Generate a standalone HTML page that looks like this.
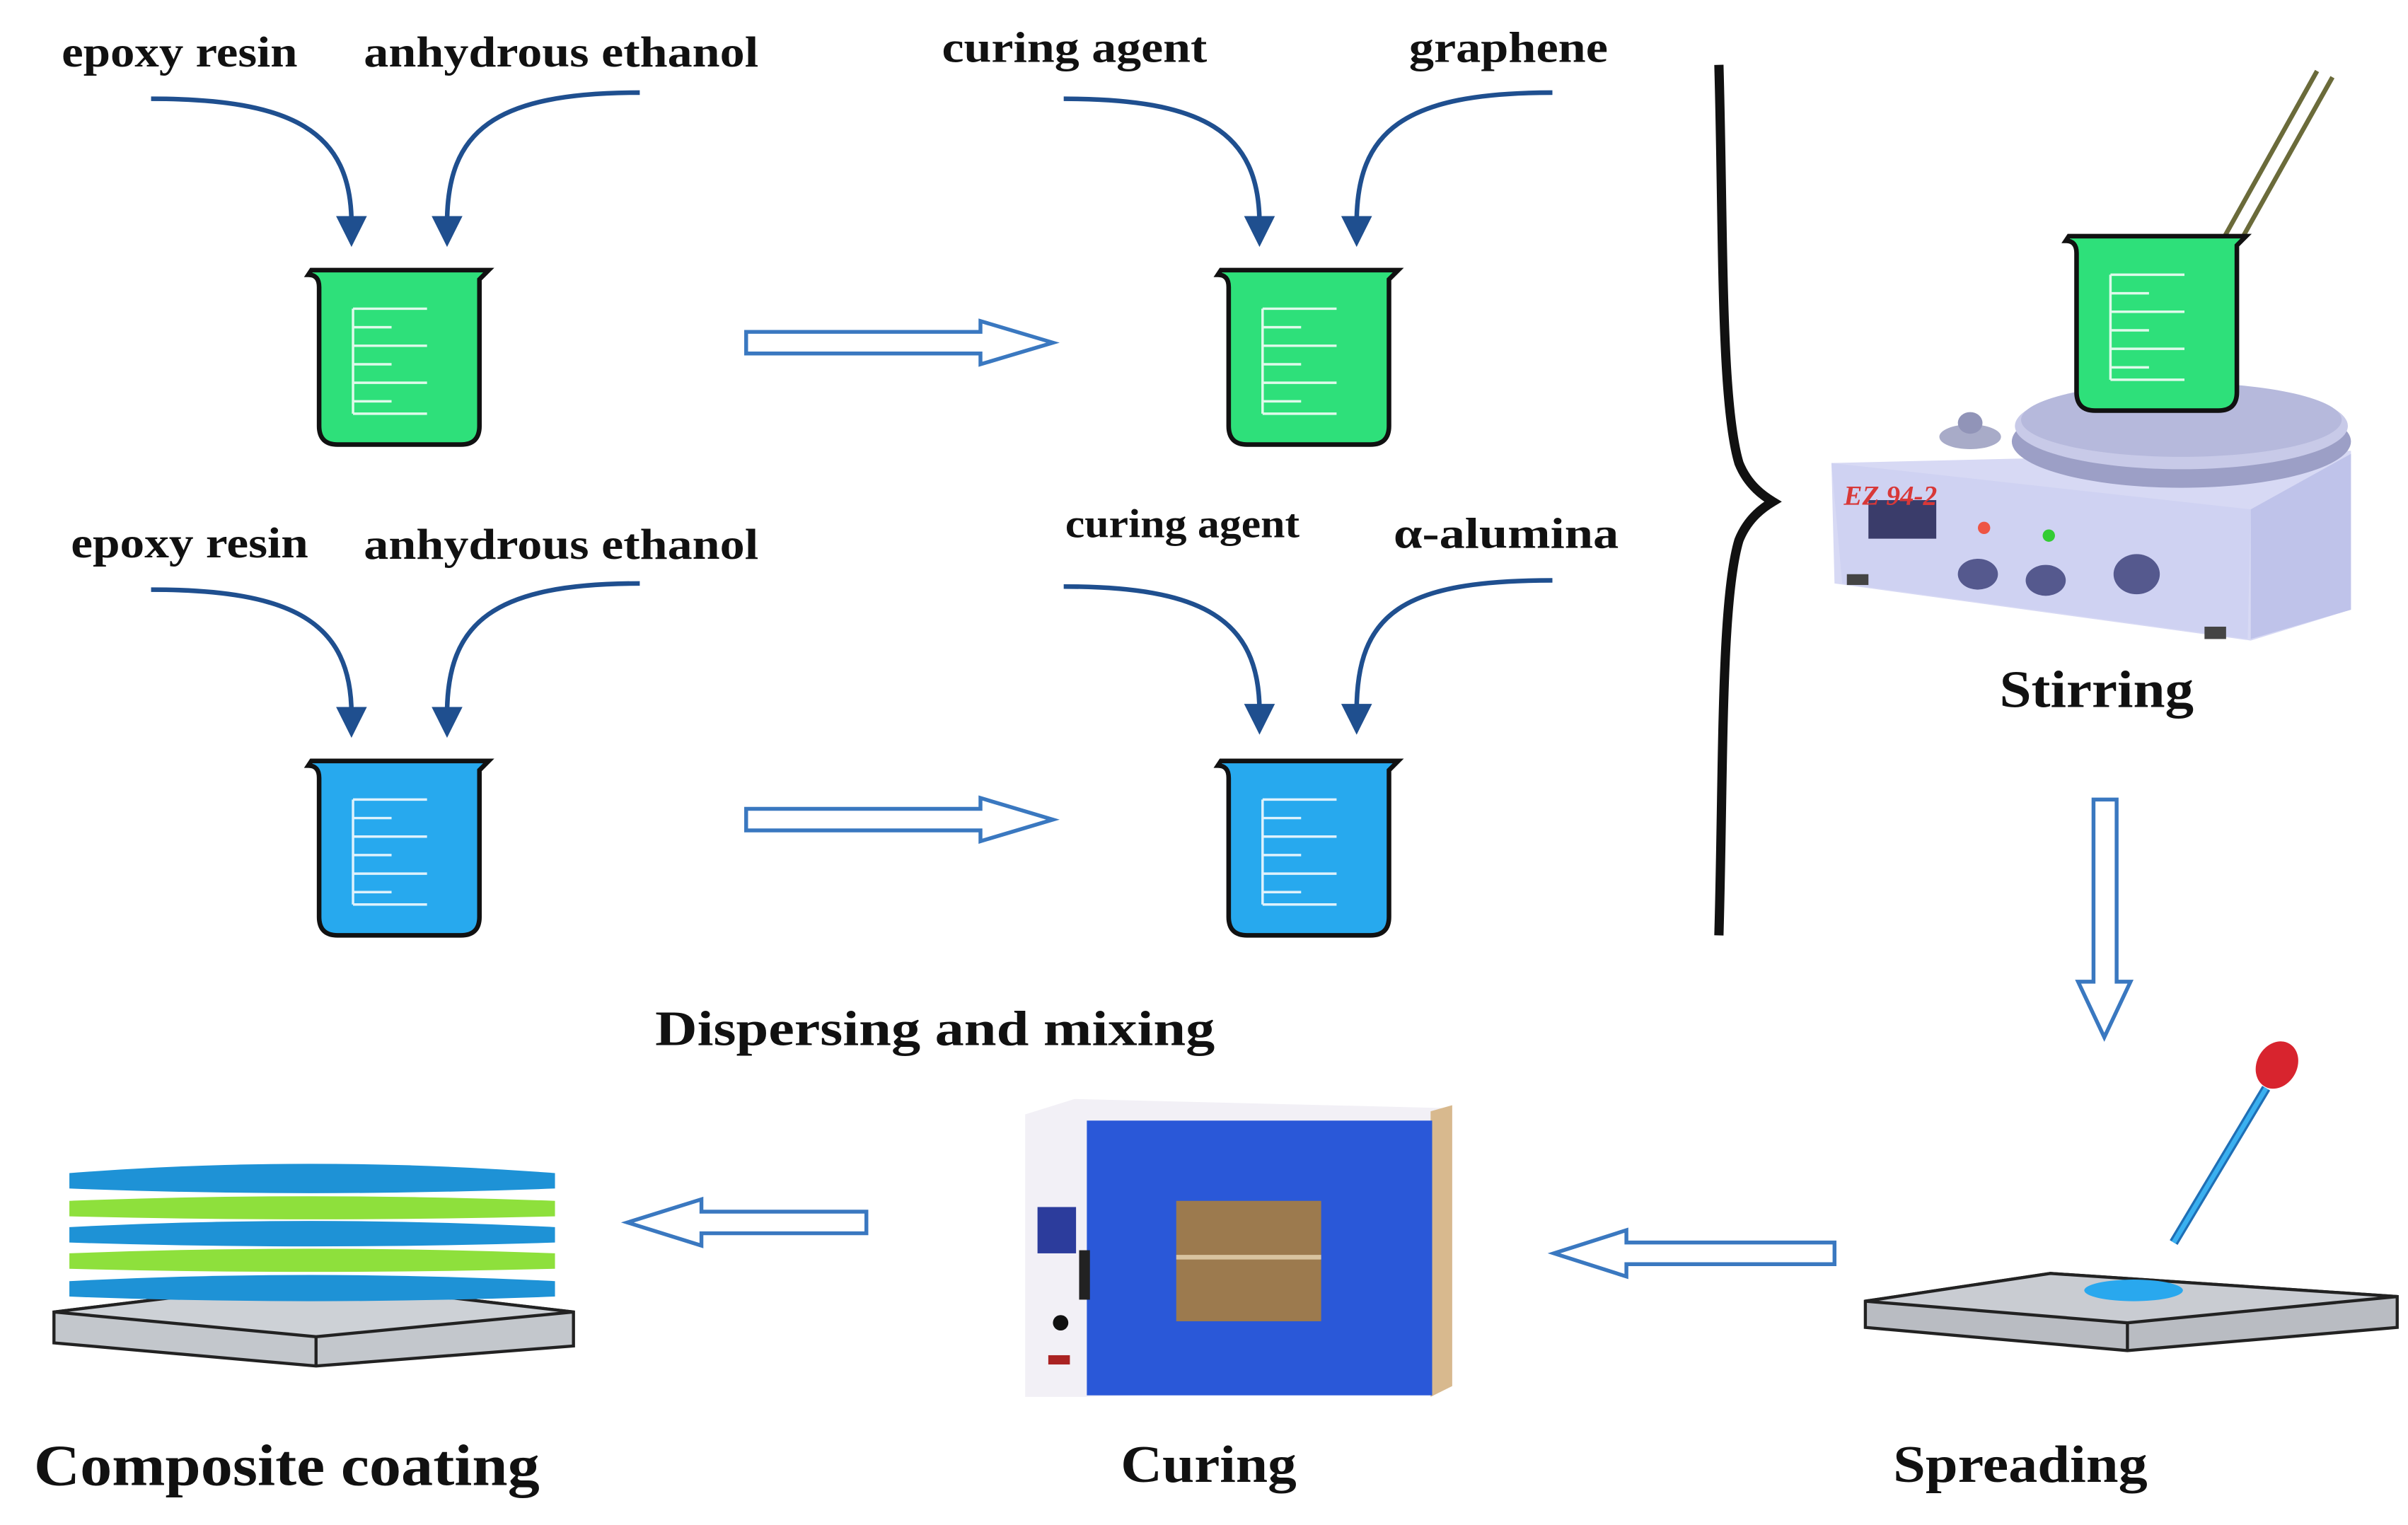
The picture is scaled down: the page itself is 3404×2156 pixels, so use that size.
<!DOCTYPE html>
<html><head><meta charset="utf-8"><style>
html,body{margin:0;padding:0;background:#fff}
svg{display:block}
text{font-family:"Liberation Serif",serif;font-weight:bold;fill:#111}
</style></head><body>
<svg width="3404" height="2156" viewBox="0 0 1562 988" preserveAspectRatio="none" xmlns="http://www.w3.org/2000/svg">
<defs>
<g id="grad" stroke="#fff" stroke-width="1.6" opacity="0.85">
<line x1="30" y1="28" x2="78" y2="28"/><line x1="30" y1="40" x2="55" y2="40"/>
<line x1="30" y1="52" x2="78" y2="52"/><line x1="30" y1="64" x2="55" y2="64"/>
<line x1="30" y1="76" x2="78" y2="76"/><line x1="30" y1="88" x2="55" y2="88"/>
<line x1="30" y1="96" x2="78" y2="96"/><line x1="30" y1="28" x2="30" y2="96"/>
</g>
<path id="bk" d="M3,3 L118,3 L112,9 L112,104 Q112,116 100,116 L20,116 Q8,116 8,104 L8,14 Q8,6 1,6 Z" stroke="#111" stroke-width="3"/>
</defs>

<text x="40" y="43" font-size="28" textLength="153" lengthAdjust="spacingAndGlyphs">epoxy resin</text>
<text x="236" y="43" font-size="28" textLength="256" lengthAdjust="spacingAndGlyphs">anhydrous ethanol</text>
<text x="611" y="40" font-size="28" textLength="172" lengthAdjust="spacingAndGlyphs">curing agent</text>
<text x="914" y="40" font-size="28" textLength="129" lengthAdjust="spacingAndGlyphs">graphene</text>
<text x="46" y="361" font-size="28" textLength="154" lengthAdjust="spacingAndGlyphs">epoxy resin</text>
<text x="236" y="362" font-size="28" textLength="256" lengthAdjust="spacingAndGlyphs">anhydrous ethanol</text>
<text x="691" y="348" font-size="26" textLength="152" lengthAdjust="spacingAndGlyphs">curing agent</text>
<text x="904" y="355" font-size="28" textLength="146" lengthAdjust="spacingAndGlyphs">α-alumina</text>

<g fill="none" stroke="#1f4f8f" stroke-width="3">
<path d="M98,64 C190,64 228,85 228,145"/>
<path d="M415,60 C320,60 290,85 290,145"/>
<path d="M690,64 C780,64 817,85 817,145"/>
<path d="M1007,60 C910,60 880,85 880,145"/>
<path d="M98,382 C190,382 228,403 228,463"/>
<path d="M415,378 C320,378 290,403 290,463"/>
<path d="M690,380 C780,380 817,401 817,461"/>
<path d="M1007,376 C910,376 880,397 880,461"/>
</g>
<g fill="#1f4f8f">
<polygon points="218,140 238,140 228,160"/><polygon points="280,140 300,140 290,160"/>
<polygon points="807,140 827,140 817,160"/><polygon points="870,140 890,140 880,160"/>
<polygon points="218,458 238,458 228,478"/><polygon points="280,458 300,458 290,478"/>
<polygon points="807,456 827,456 817,476"/><polygon points="870,456 890,456 880,476"/>
</g>

<g transform="translate(199,172)"><use href="#bk" fill="#2ee07a"/><use href="#grad"/></g>
<g transform="translate(789,172)"><use href="#bk" fill="#2ee07a"/><use href="#grad"/></g>
<g transform="translate(199,490)"><use href="#bk" fill="#27a9ee"/><use href="#grad"/></g>
<g transform="translate(789,490)"><use href="#bk" fill="#27a9ee"/><use href="#grad"/></g>

<g fill="#fff" stroke="#3a78c0" stroke-width="2.5">
<polygon points="484,215 636,215 636,208 683,222 636,236 636,229 484,229"/>
<polygon points="484,524 636,524 636,517 683,531 636,545 636,538 484,538"/>
<polygon points="1358,518 1373,518 1373,636 1382,636 1365,672 1348,636 1358,636"/>
<polygon points="1190,805 1055,805 1055,797 1008,812 1055,827 1055,819 1190,819"/>
<polygon points="562,785 455,785 455,777 407,792 455,807 455,799 562,799"/>
</g>

<text x="425" y="677" font-size="32" textLength="363" lengthAdjust="spacingAndGlyphs">Dispersing and mixing</text>

<path d="M1115,42 C1118,150 1116,260 1128,300 C1134,315 1145,322 1150,325 C1145,328 1134,335 1128,350 C1116,390 1118,500 1115,606" fill="none" stroke="#111" stroke-width="6"/>

<g>
<polygon points="1188,300 1525,292 1525,395 1460,415 1190,378" fill="#d7d9f4"/>
<polygon points="1188,300 1195,378 1458,414 1460,330" fill="#cfd2f2"/>
<polygon points="1460,330 1525,294 1525,395 1460,414" fill="#bfc3ea"/>
<rect x="1212" y="324" width="44" height="25" fill="#3a3c6a"/>
<text x="1196" y="327" font-size="18" style="fill:#d83838;font-style:italic">EZ 94-2</text>
<circle cx="1287" cy="342" r="4" fill="#e54"/><circle cx="1329" cy="347" r="4" fill="#3c3"/>
<ellipse cx="1283" cy="372" rx="13" ry="10" fill="#55598e"/>
<ellipse cx="1327" cy="376" rx="13" ry="10" fill="#55598e"/>
<ellipse cx="1386" cy="372" rx="15" ry="13" fill="#55598e"/>
<rect x="1198" y="372" width="14" height="7" fill="#444"/>
<rect x="1430" y="406" width="14" height="8" fill="#444"/>
<ellipse cx="1278" cy="283" rx="20" ry="8" fill="#a8abc8"/><ellipse cx="1278" cy="274" rx="8" ry="7" fill="#9194b8"/>
<ellipse cx="1415" cy="286" rx="110" ry="30" fill="#9c9fc6"/>
<ellipse cx="1415" cy="276" rx="108" ry="28" fill="#c8cae8"/>
<ellipse cx="1415" cy="272" rx="104" ry="24" fill="#b6b9dc"/>
<line x1="1442" y1="155" x2="1503" y2="46" stroke="#6b6b3a" stroke-width="3"/>
<line x1="1454" y1="155" x2="1513" y2="50" stroke="#6b6b3a" stroke-width="3"/>
<g transform="translate(1339,150)"><use href="#bk" fill="#2ee07a"/><use href="#grad"/></g>
</g>
<text x="1297" y="458" font-size="34" textLength="126" lengthAdjust="spacingAndGlyphs">Stirring</text>

<polygon points="1210,843 1330,825 1555,840 1555,860 1380,875 1210,860" fill="#b9bcc2" stroke="#222" stroke-width="2"/>
<polygon points="1210,843 1380,857 1555,840 1330,825" fill="#c9ccd2" stroke="#222" stroke-width="2"/>
<line x1="1380" y1="857" x2="1380" y2="875" stroke="#222" stroke-width="2"/>
<ellipse cx="1384" cy="836" rx="32" ry="7" fill="#29a8ee"/>
<line x1="1410" y1="805" x2="1470" y2="705" stroke="#1f6fb5" stroke-width="6"/>
<line x1="1410" y1="805" x2="1470" y2="705" stroke="#3ab0f0" stroke-width="3"/>
<ellipse cx="1477" cy="690" rx="13" ry="16" fill="#d8242e" transform="rotate(30 1477 690)"/>
<text x="1228" y="960" font-size="34" textLength="165" lengthAdjust="spacingAndGlyphs">Spreading</text>

<polygon points="665,722 697,712 942,718 942,898 705,905 665,905" fill="#f2f0f6"/>
<polygon points="928,720 942,716 942,898 928,905" fill="#d8b98e"/>
<rect x="705" y="726" width="224" height="178" fill="#2a58d8"/>
<rect x="763" y="778" width="94" height="78" fill="#9c7a4e"/>
<rect x="763" y="813" width="94" height="3" fill="#d9c4a0"/>
<rect x="673" y="782" width="25" height="30" fill="#2c3c9c"/>
<rect x="700" y="810" width="7" height="32" fill="#222"/>
<circle cx="688" cy="857" r="5" fill="#111"/>
<rect x="680" y="878" width="14" height="6" fill="#a22"/>
<text x="727" y="960" font-size="34" textLength="114" lengthAdjust="spacingAndGlyphs">Curing</text>

<polygon points="35,850 200,830 372,850 372,872 205,885 35,870" fill="#c3c7cc" stroke="#222" stroke-width="2"/>
<polygon points="35,850 205,866 372,850 200,830" fill="#cdd1d6" stroke="#222" stroke-width="2"/>
<line x1="205" y1="866" x2="205" y2="885" stroke="#222" stroke-width="2"/>
<g>
<path d="M45,760 Q200,748 360,760 L360,770 Q200,776 45,770 Z" fill="#1e92d6"/>
<path d="M45,778 Q200,772 360,778 L360,788 Q200,792 45,788 Z" fill="#8ee03c"/>
<path d="M45,795 Q200,787 360,795 L360,805 Q200,810 45,805 Z" fill="#1e92d6"/>
<path d="M45,812 Q200,806 360,812 L360,822 Q200,826 45,822 Z" fill="#8ee03c"/>
<path d="M45,830 Q200,822 360,830 L360,840 Q200,846 45,840 Z" fill="#1e92d6"/>
</g>
<text x="22" y="962" font-size="38" textLength="328" lengthAdjust="spacingAndGlyphs">Composite coating</text>
</svg>
</body></html>
